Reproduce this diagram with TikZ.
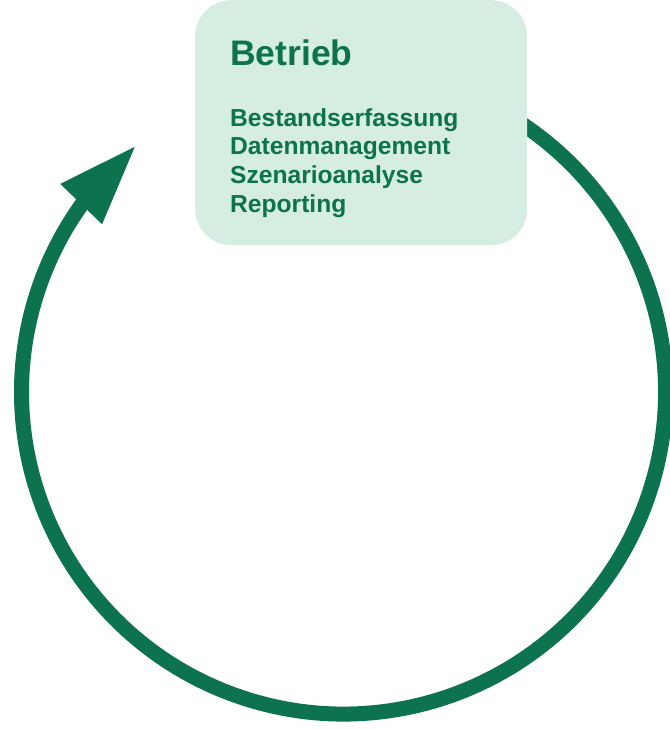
\documentclass[tikz,border=0pt]{standalone}
\usepackage{fontspec}
\setmainfont{Liberation Sans}
\usetikzlibrary{calc}
\definecolor{cyclegreen}{RGB}{13,114,78}
\definecolor{boxfill}{RGB}{214,237,225}
\tikzset{
  cyclearc/.style={draw=cyclegreen, line width=15pt, line cap=butt},
  cyclehead/.style={fill=cyclegreen, draw=none},
  phasebox/.style={fill=boxfill, draw=none, rounded corners=36pt},
  titletext/.style={anchor=base west, inner sep=0pt, text=cyclegreen, font=\bfseries\fontsize{35.5}{40}\selectfont},
  itemtext/.style={anchor=base west, inner sep=0pt, text=cyclegreen, font=\bfseries\fontsize{24.6}{28.6}\selectfont}
}
\begin{document}
\begin{tikzpicture}[x=1pt,y=1pt]
\useasboundingbox (0,0) rectangle (670,729);
\coordinate (c) at (343.5,337);
% circular arrow
\draw[cyclearc] (c) ++(70:322) arc[start angle=70, end angle=-217, radius=322];
\coordinate (tip) at ($(c)+(130.4:322)$);
\coordinate (b1) at ($(c)+(143.7:351.5)$);
\coordinate (b2) at ($(c)+(145.2:294)$);
\fill[cyclehead] (tip) -- (b1) -- (b2) -- cycle;
% box
\node[phasebox, minimum width=332pt, minimum height=245pt, anchor=north west, inner sep=0pt] (box) at (195,729) {};
\node[titletext] (title) at (230,663.3) {Betrieb};
\node[itemtext] (i1) at (230,602.3) {Bestandserfassung};
\node[itemtext] (i2) at (230,574) {Datenmanagement};
\node[itemtext] (i3) at (230,545) {Szenarioanalyse};
\node[itemtext] (i4) at (230,516.7) {Reporting};
\end{tikzpicture}
\end{document}
